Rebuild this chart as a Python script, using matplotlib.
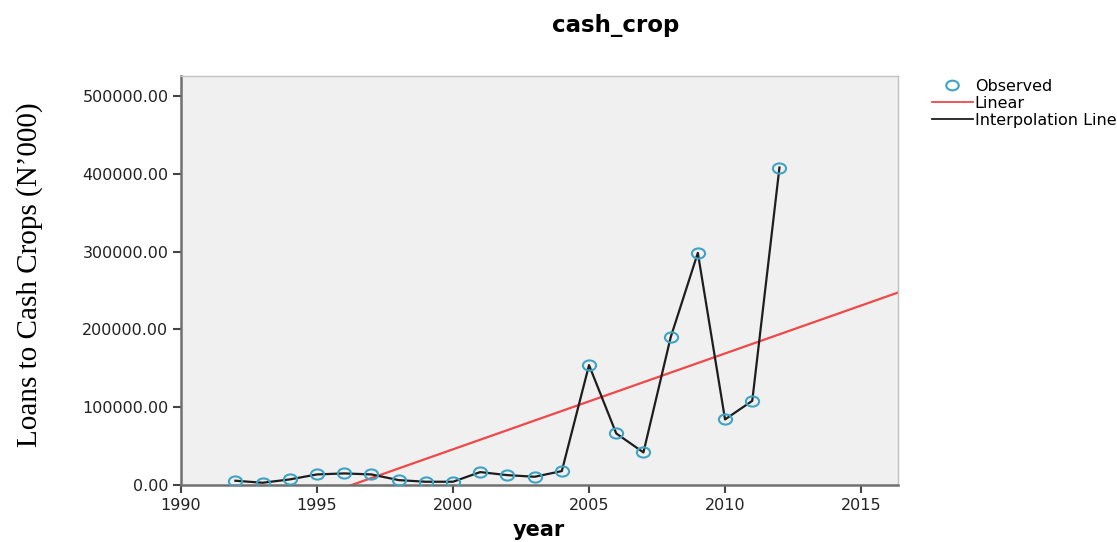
import numpy as np
import matplotlib
matplotlib.use("Agg")
import matplotlib.pyplot as plt
from matplotlib.lines import Line2D
from matplotlib.path import Path
from matplotlib.transforms import Affine2D
from matplotlib.ticker import FormatStrFormatter

years = [1992, 1993, 1994, 1995, 1996, 1997, 1998, 1999, 2000, 2001, 2002,
         2003, 2004, 2005, 2006, 2007, 2008, 2009, 2010, 2011, 2012]
loans = [5600, 3000, 7300, 13700, 15000, 13700, 6400, 4300, 4300, 16700, 12800,
         10700, 18000, 154200, 66400, 42000, 189800, 298500, 84400, 108300, 408200]
x_ticks = [1990, 1995, 2000, 2005, 2010, 2015]
y_ticks = [0, 100000, 200000, 300000, 400000, 500000]

plt.rcParams['font.family'] = ['DejaVu Sans']

# the source chart is a bit wide, so the circles look like flat ellipses
oval = Path.unit_circle().transformed(Affine2D().scale(1.3, 1.0))
blue = '#3fa3c4'

fig = plt.figure(figsize=(11.17, 5.42), dpi=100)
ax = fig.add_axes([0.162, 0.105, 0.642, 0.7546])
ax.set_facecolor('#f0f0f0')

x0, x1 = 1990, 2016.36
slope, icpt = np.polyfit(years, loans, 1)
xf = np.array([x0, x1])
ax.plot(xf, slope * xf + icpt, color='#f04848', lw=1.6, zorder=2)

ax.plot(years, loans, color='#1e1e1e', lw=1.6, zorder=3)
ax.plot(years, loans, ls='none', marker=oval, ms=9.5, mfc='none', mec=blue, mew=1.5, zorder=4)

ax.set_xlim(x0, x1)
ax.set_ylim(0, 525700)
ax.set_xticks(x_ticks)
ax.set_yticks(y_ticks)
ax.yaxis.set_major_formatter(FormatStrFormatter('%.2f'))
ax.tick_params(direction='out', length=6, width=1.5, color='#444444',
               labelcolor='#222222', labelsize=11.5, pad=3)

for s in ['top', 'right']:
    ax.spines[s].set_color('#c0c0c0')
    ax.spines[s].set_linewidth(1.0)
for s in ['left', 'bottom']:
    ax.spines[s].set_color('#707070')
    ax.spines[s].set_linewidth(1.8)

fig.text(0.482, 0.003, 'year', fontsize=15, fontweight='bold', ha='center', va='bottom')
fig.text(0.026, 0.493, 'Loans to Cash Crops (N\u2019000)', rotation=90,
         family='Liberation Serif', fontsize=21, ha='center', va='center')
fig.text(0.551, 0.953, 'cash_crop', fontsize=16.5, fontweight='bold',
         ha='center', va='center')

handles = [
    Line2D([], [], ls='none', marker=oval, ms=9, mfc='none', mec=blue, mew=1.5),
    Line2D([], [], color='#f04848', lw=1.3),
    Line2D([], [], color='#1e1e1e', lw=1.3),
]
fig.legend(handles, ['Observed', 'Linear', 'Interpolation Line'],
           loc='upper left', bbox_to_anchor=(0.834, 0.855), frameon=False,
           fontsize=11.5, handlelength=2.6, handletextpad=0.1, labelspacing=0.13,
           borderaxespad=0, borderpad=0)

fig.savefig('out.png', dpi=100)
